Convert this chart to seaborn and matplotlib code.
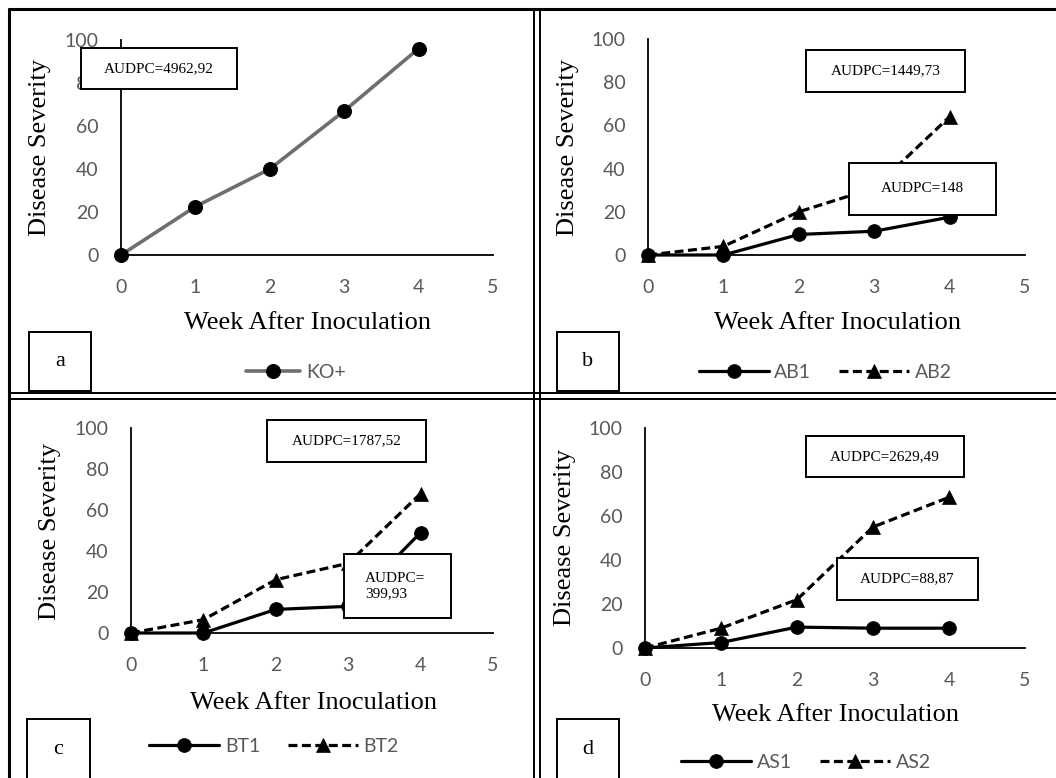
import numpy as np
import pandas as pd
import matplotlib
matplotlib.use("Agg")
import matplotlib.pyplot as plt
import matplotlib.patches as patches
from matplotlib.lines import Line2D
import seaborn as sns

sns.set_theme(style="white")
plt.rcParams["font.family"] = ["Lato", "DejaVu Sans"]

W, H = 1056, 778
TICK_GRAY = "#595959"
SERIF = ["Liberation Serif", "DejaVu Serif"]

# data
weeks = [0, 1, 2, 3, 4]
ko_plus = [0, 22.5, 40, 67, 96]
ab1 = [0, 0, 9.5, 11, 17.5]
ab2 = [0, 4, 20, 31, 64]
bt1 = [0, 0, 11.5, 13, 49]
bt2 = [0, 6.5, 26, 34, 68]
as1 = [0, 2.5, 9.5, 9, 9]
as2 = [0, 9, 22, 55, 68.5]

x_ticks = [0, 1, 2, 3, 4, 5]
y_ticks = [0, 20, 40, 60, 80, 100]


def fx(px):
    return px / W


def fy(py):
    return 1 - py / H


def make_ax(fig, x0, x1, y_top, y_zero):
    ax = fig.add_axes([fx(x0), fy(y_zero), (x1 - x0) / W, (y_zero - y_top) / H])
    ax.set_xlim(0, 5)
    ax.set_ylim(0, 100)
    ax.set_xticks(x_ticks)
    ax.set_yticks(y_ticks)
    ax.tick_params(axis="y", length=0, labelsize=14, labelcolor=TICK_GRAY, pad=16)
    ax.tick_params(axis="x", length=0, labelsize=14, labelcolor=TICK_GRAY, pad=17)
    sns.despine(ax=ax)
    for s in ["left", "bottom"]:
        ax.spines[s].set_color("black")
        ax.spines[s].set_linewidth(1.3)
    ax.set_xlabel("")
    ax.set_ylabel("")
    ax.patch.set_alpha(0)
    return ax


def draw_series(ax, names, values, styles):
    df = pd.DataFrame({
        "week": weeks * len(names),
        "severity": [v for vals in values for v in vals],
        "series": [n for n in names for _ in weeks],
    })
    markers = {n: styles[n][0] for n in names}
    dashes = {n: styles[n][1] for n in names}
    sns.lineplot(data=df, x="week", y="severity", style="series", style_order=names,
                 markers=markers, dashes=dashes, color="black", linewidth=2.3,
                 markersize=10, markeredgecolor="black", markeredgewidth=0.5,
                 clip_on=False, legend=False, ax=ax)
    ax.set_xlabel("")
    ax.set_ylabel("")
    return ax.lines[:len(names)]


def box(fig, x0, x1, y0, y1, text, fontsize=11, ha="center", tx=None, lw=1.4):
    fig.add_artist(patches.Rectangle((fx(x0), fy(y1)), (x1 - x0) / W, (y1 - y0) / H,
                                     transform=fig.transFigure, facecolor="white",
                                     edgecolor="black", linewidth=lw, zorder=10))
    if tx is None:
        tx = (x0 + x1) / 2
    fig.text(fx(tx), fy((y0 + y1) / 2), text, ha=ha, va="center", fontsize=fontsize,
             family=SERIF, color="black", zorder=11, linespacing=1.2)


def axis_labels(fig, xl, yl):
    fig.text(fx(xl[0]), fy(xl[1]), "Week After Inoculation", ha="center", va="center",
             fontsize=19, family=SERIF, color="black")
    fig.text(fx(yl[0]), fy(yl[1]), "Disease Severity", ha="center", va="center",
             rotation=90, fontsize=19, family=SERIF, color="black")


def legend(fig, ax, handles, labels, cx, cy, hl=3.6):
    leg = ax.legend(handles, labels, loc="center", bbox_to_anchor=(fx(cx), fy(cy)),
                    bbox_transform=fig.transFigure, ncol=len(labels), frameon=False,
                    fontsize=14, handlelength=hl, handletextpad=0.3, columnspacing=1.4,
                    borderaxespad=0)
    for t in leg.get_texts():
        t.set_color(TICK_GRAY)


fig = plt.figure(figsize=(W / 100, H / 100), dpi=100)
fig.patch.set_facecolor("white")

# panel a
ax_a = make_ax(fig, 121, 493, 40, 255)
df_a = pd.DataFrame({"week": weeks, "severity": ko_plus, "series": "KO+"})
sns.lineplot(data=df_a, x="week", y="severity", color="#6e6e6e", linewidth=2.6,
             marker="o", markersize=10, markerfacecolor="black", markeredgecolor="black",
             clip_on=False, legend=False, ax=ax_a)
ax_a.set_xlabel("")
ax_a.set_ylabel("")
legend(fig, ax_a, ax_a.lines[:1], ["KO+"], 296, 372, hl=2.8)

# panel b
ax_b = make_ax(fig, 648, 1025, 39, 255)
st_b = {"AB1": ("o", ""), "AB2": ("^", (2.8, 1.4))}
h_b = draw_series(ax_b, ["AB1", "AB2"], [ab1, ab2], st_b)
legend(fig, ax_b, h_b, ["AB1", "AB2"], 825, 372)

# panel c
ax_c = make_ax(fig, 131, 493, 428, 633)
st_c = {"BT1": ("o", ""), "BT2": ("^", (2.8, 1.4))}
h_c = draw_series(ax_c, ["BT1", "BT2"], [bt1, bt2], st_c)
legend(fig, ax_c, h_c, ["BT1", "BT2"], 274, 746)

# panel d
ax_d = make_ax(fig, 645, 1025, 428, 648)
st_d = {"AS1": ("o", ""), "AS2": ("^", (2.8, 1.4))}
h_d = draw_series(ax_d, ["AS1", "AS2"], [as1, as2], st_d)
legend(fig, ax_d, h_d, ["AS1", "AS2"], 806, 762)

# axis titles
axis_labels(fig, (307, 323), (40, 147))
axis_labels(fig, (838, 323), (568, 147))
axis_labels(fig, (313, 703), (50, 532))
axis_labels(fig, (836, 715), (565, 537))

# AUDPC boxes
box(fig, 81, 237, 48, 89, "AUDPC=4962,92")
box(fig, 806, 965, 50, 92, "AUDPC=1449,73")
box(fig, 849, 996, 163, 215, "AUDPC=148")
box(fig, 267, 426, 420, 462, "AUDPC=1787,52")
box(fig, 344, 451, 554, 618, "AUDPC=\n399,93", ha="left", tx=365)
box(fig, 806, 964, 436, 477, "AUDPC=2629,49")
box(fig, 837, 978, 558, 600, "AUDPC=88,87")

# panel letter boxes
box(fig, 29, 91, 332, 391, "a", fontsize=16)
box(fig, 557, 619, 332, 391, "b", fontsize=16)
box(fig, 27, 90, 719, 780, "c", fontsize=16)
box(fig, 557, 619, 719, 780, "d", fontsize=16)

# panel frames
frame_kw = dict(transform=fig.transFigure, color="black", zorder=12)
fig.add_artist(Line2D([fx(9), fx(W)], [fy(9), fy(9)], linewidth=2.2, **frame_kw))
fig.add_artist(Line2D([fx(9), fx(9)], [fy(9), fy(H)], linewidth=2.2, **frame_kw))
for xv in (534, 540):
    fig.add_artist(Line2D([fx(xv), fx(xv)], [fy(9), fy(H)], linewidth=1.4, **frame_kw))
for yv in (393, 399):
    fig.add_artist(Line2D([fx(9), fx(W)], [fy(yv), fy(yv)], linewidth=1.4, **frame_kw))

fig.savefig("out.png", dpi=100, facecolor="white")
